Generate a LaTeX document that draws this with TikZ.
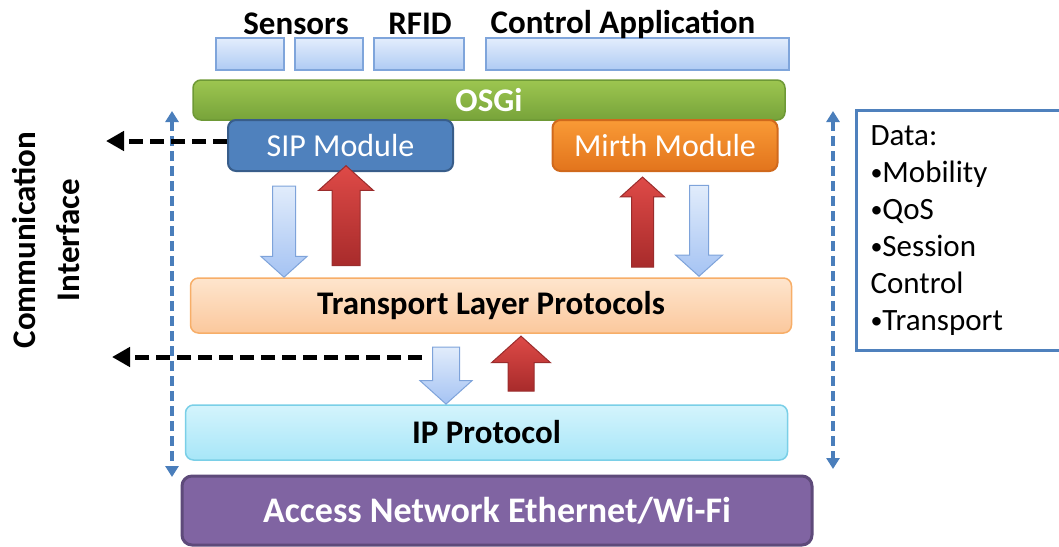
\documentclass[tikz,border=0pt]{standalone}
\usepackage{fontspec}
\setmainfont{Carlito}
\usepackage{xcolor}
\usetikzlibrary{shapes.misc,shapes.arrows,arrows.meta,positioning}

\definecolor{tabtop}{HTML}{E3EDFC}
\definecolor{tabbot}{HTML}{AFCBF4}
\definecolor{tabline}{HTML}{7FA5DB}
\definecolor{osgitop}{HTML}{9DC650}
\definecolor{osgibot}{HTML}{77A33A}
\definecolor{osgiline}{HTML}{6E9936}
\definecolor{sipfill}{HTML}{4F81BD}
\definecolor{sipline}{HTML}{385D8A}
\definecolor{mirthtop}{HTML}{F99A36}
\definecolor{mirthbot}{HTML}{E2741C}
\definecolor{mirthline}{HTML}{D0691C}
\definecolor{tlptop}{HTML}{FEE5CD}
\definecolor{tlpbot}{HTML}{FBC89D}
\definecolor{tlpline}{HTML}{F7AE68}
\definecolor{iptop}{HTML}{D4F4FC}
\definecolor{ipbot}{HTML}{A7E6F8}
\definecolor{ipline}{HTML}{7ACFE7}
\definecolor{accfill}{HTML}{8064A2}
\definecolor{accline}{HTML}{5E4A7A}
\definecolor{dntop}{HTML}{E1ECFB}
\definecolor{dnbot}{HTML}{A5C3F3}
\definecolor{dnline}{HTML}{7EA3DA}
\definecolor{uptop}{HTML}{DE4A47}
\definecolor{upbot}{HTML}{A82B2B}
\definecolor{upline}{HTML}{9A2C2C}
\definecolor{dashblue}{HTML}{4A7EBB}

\newcommand{\bul}{{\fontsize{24}{24}\selectfont\raisebox{1.5pt}{•}}}

\begin{document}
\begin{tikzpicture}[x=1pt, y=-1pt,
    tab/.style={draw=tabline, line width=1.2pt, top color=tabtop, bottom color=tabbot,
        chamfered rectangle, chamfered rectangle corners=north east,
        chamfered rectangle xsep=6pt, chamfered rectangle ysep=6pt,
        minimum height=32pt, inner sep=0pt},
    lbl/.style={font=\bfseries\fontsize{33}{38}\selectfont},
    layer/.style={draw, rounded corners=8pt, line width=1.5pt, inner sep=0pt,
        minimum height=55pt, font=\bfseries\fontsize{33}{38}\selectfont},
    module/.style={draw, rounded corners=8pt, line width=2pt, inner sep=0pt,
        minimum width=225pt, minimum height=51pt, text=white,
        font=\fontsize{32}{38}\selectfont},
    blockarrow/.style={single arrow, line width=1pt, single arrow tip angle=96},
    downarrow/.style={blockarrow, shape border rotate=270, draw=dnline,
        top color=dntop, bottom color=dnbot},
    uparrow/.style={blockarrow, shape border rotate=90, draw=upline,
        top color=uptop, bottom color=upbot},
    iface/.style={line width=5pt, dash pattern=on 14pt off 7pt,
        -{Triangle[length=18pt,width=19pt]}},
    span/.style={dashblue, line width=3.5pt, dash pattern=on 10pt off 5pt,
        {Triangle[length=11pt,width=13pt]}-{Triangle[length=11pt,width=13pt]}}
]
\useasboundingbox (0,0) rectangle (1059,546);

% Applications
\node[tab, minimum width=68pt] (sens1) at (250,54) {};
\node[tab, minimum width=68pt] (sens2) at (329,54) {};
\node[tab, minimum width=90pt] (rfid) at (419,54) {};
\node[tab, minimum width=303pt] (ctrl) at (637.5,54) {};
\node[lbl] (lsens) at (296,24) {Sensors};
\node[lbl] (lrfid) at (420,24) {RFID};
\node[lbl] (lctrl) at (623,24) {Control Application};

% OSGi and modules
\node[layer, draw=osgiline, top color=osgitop, bottom color=osgibot, text=white,
    minimum width=592pt, minimum height=40pt] (osgi) at (489,100) {OSGi};
\node[module, draw=sipline, fill=sipfill] (sip) at (340.5,145.5) {SIP Module};
\node[module, draw=mirthline, top color=mirthtop, bottom color=mirthbot] (mirth) at (665,145.5) {Mirth Module};

% Layers
\node[layer, draw=tlpline, top color=tlptop, bottom color=tlpbot,
    minimum width=601pt] (tlp) at (491,305.5) {Transport Layer Protocols};
\node[layer, draw=ipline, top color=iptop, bottom color=ipbot,
    minimum width=602pt] (ip) at (486.5,432.5) {IP Protocol};
\node[layer, draw=accline, fill=accfill, text=white, line width=3pt, rounded corners=10pt,
    minimum width=630pt, minimum height=69pt,
    font=\bfseries\fontsize{36}{42}\selectfont] (acc) at (497,510.5) {Access Network Ethernet/Wi-Fi};

% Block arrows
\node[downarrow, inner sep=11pt, minimum height=91pt, single arrow head extend=11.5pt] (sipdown) at (284,226.5) {};
\node[uparrow, inner sep=13.5pt, minimum height=100pt, single arrow head extend=13.5pt] (sipup) at (346,222) {};
\node[uparrow, inner sep=10.5pt, minimum height=90pt, single arrow head extend=11pt] (mirthup) at (642.5,227) {};
\node[downarrow, inner sep=9pt, minimum height=91pt, single arrow head extend=14pt] (mirthdown) at (699,226.5) {};
\node[downarrow, inner sep=13pt, minimum height=57pt, single arrow head extend=12.5pt] (ipdown) at (446,369.5) {};
\node[uparrow, inner sep=12.5pt, minimum height=55pt, single arrow head extend=16.5pt] (ipup) at (521,369.5) {};

% Spans
\coordinate (ltop) at (172,111);
\coordinate (lbot) at (172,477);
\coordinate (rtop) at (833,111);
\coordinate (rbot) at (833,469);
\draw[span] (ltop) -- (lbot);
\draw[span] (rtop) -- (rbot);

% Communication interface
\coordinate (sipout) at (106,141);
\coordinate (tlpin) at (422,357);
\coordinate (tlpout) at (112,357);
\draw[iface] (sip.west |- sipout) -- (sipout);
\draw[iface] (tlpin) -- (tlpout);
\node[rotate=90, align=center, font=\bfseries\fontsize{33}{44}\selectfont] (comm) at (46,240) {Communication\\Interface};

% Data
\node[draw=sipfill, line width=3pt, anchor=north west, align=left, text width=200pt,
    inner xsep=14pt, inner ysep=15pt, font=\fontsize{31}{37}\selectfont] (data) at (855,109)
    {Data:\\\bul Mobility\\\bul QoS\\\bul Session\\Control\\\bul Transport};
\end{tikzpicture}
\end{document}
